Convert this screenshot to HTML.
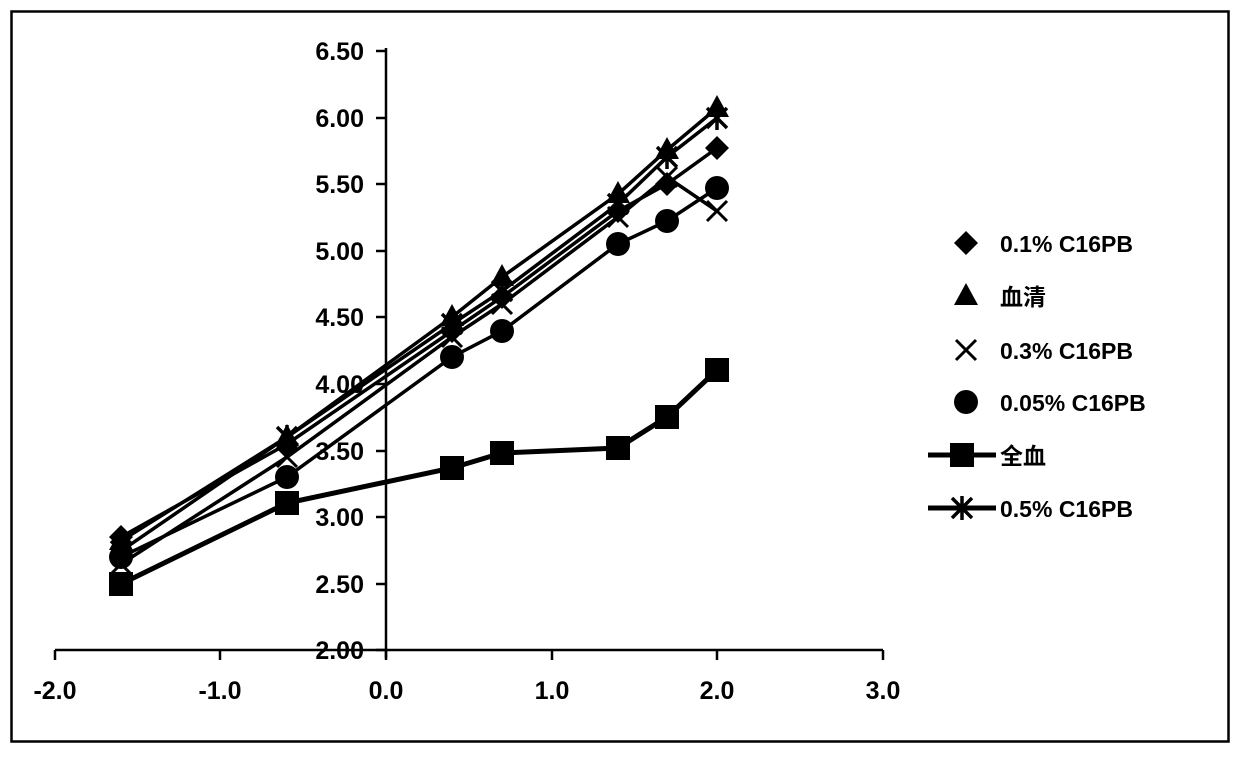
<!DOCTYPE html>
<html><head><meta charset="utf-8"><style>
html,body{margin:0;padding:0;background:#fff;}
svg text{font-family:"Liberation Sans","Noto Sans CJK SC",sans-serif;font-weight:bold;fill:#000;}
</style></head><body>
<svg width="1240" height="754" viewBox="0 0 1240 754" xmlns="http://www.w3.org/2000/svg">
<rect x="11.5" y="11.5" width="1217" height="730" fill="none" stroke="#000" stroke-width="2.5"/>
<defs>
<g id="dia"><path d="M0,-12 L12,0 L0,12 L-12,0Z" fill="#000"/></g>
<g id="tri"><path d="M0,-13 L12,9 L-12,9Z" fill="#000"/></g>
<g id="xx"><path d="M-10,-10 L10,10 M10,-10 L-10,10" stroke="#000" stroke-width="3"/></g>
<g id="cir"><circle r="12" fill="#000"/></g>
<g id="sq"><rect x="-12" y="-12" width="24" height="24" fill="#000"/></g>
<g id="star"><path d="M-10,-10 L10,10 M10,-10 L-10,10 M0,-12 L0,12" stroke="#000" stroke-width="3.5"/></g>
</defs>
<g stroke="#000" stroke-width="2.5" fill="none">
<line x1="386" y1="48" x2="386" y2="658"/>
<line x1="55" y1="650" x2="883" y2="650"/>
<line x1="55" y1="650" x2="55" y2="660"/><line x1="220" y1="650" x2="220" y2="660"/><line x1="386" y1="650" x2="386" y2="660"/><line x1="552" y1="650" x2="552" y2="660"/><line x1="717" y1="650" x2="717" y2="660"/><line x1="883" y1="650" x2="883" y2="660"/>
<line x1="376" y1="51" x2="386" y2="51"/><line x1="376" y1="118" x2="386" y2="118"/><line x1="376" y1="184" x2="386" y2="184"/><line x1="376" y1="251" x2="386" y2="251"/><line x1="376" y1="317" x2="386" y2="317"/><line x1="376" y1="384" x2="386" y2="384"/><line x1="376" y1="451" x2="386" y2="451"/><line x1="376" y1="517" x2="386" y2="517"/><line x1="376" y1="584" x2="386" y2="584"/><line x1="376" y1="650" x2="386" y2="650"/>
</g>
<g font-size="25" text-anchor="end">
<text x="364" y="60">6.50</text><text x="364" y="127">6.00</text><text x="364" y="193">5.50</text><text x="364" y="260">5.00</text><text x="364" y="326">4.50</text><text x="364" y="393">4.00</text><text x="364" y="460">3.50</text><text x="364" y="526">3.00</text><text x="364" y="593">2.50</text><text x="364" y="659">2.00</text>
</g>
<g font-size="25" text-anchor="middle">
<text x="55" y="699">-2.0</text><text x="220" y="699">-1.0</text><text x="386" y="699">0.0</text><text x="552" y="699">1.0</text><text x="717" y="699">2.0</text><text x="883" y="699">3.0</text>
</g>
<g fill="none" stroke="#000" stroke-width="3.5">
<polyline points="121,537 287,444 452,331 502,297 618,211 667,184 717,148"/>
<polyline points="121,541 287,437 452,317 502,277 618,194 667,150 717,108"/>
<polyline points="121,564 287,457 452,337 502,304 618,217 667,177 717,211"/>
<polyline points="121,557 287,477 452,357 502,331 618,244 667,221 717,188"/>
<polyline points="121,584 287,503 452,468 502,453 618,448 667,417 717,370" stroke-width="5"/>
<polyline points="121,551 287,437 452,324 502,291 618,204 667,157 717,118"/>
</g>
<g>
<use href="#dia" x="121" y="537"/><use href="#dia" x="287" y="444"/><use href="#dia" x="452" y="331"/><use href="#dia" x="502" y="297"/><use href="#dia" x="618" y="211"/><use href="#dia" x="667" y="184"/><use href="#dia" x="717" y="148"/>
<use href="#tri" x="121" y="541"/><use href="#tri" x="287" y="437"/><use href="#tri" x="452" y="317"/><use href="#tri" x="502" y="277"/><use href="#tri" x="618" y="194"/><use href="#tri" x="667" y="150"/><use href="#tri" x="717" y="108"/>
<use href="#xx" x="121" y="564"/><use href="#xx" x="287" y="457"/><use href="#xx" x="452" y="337"/><use href="#xx" x="502" y="304"/><use href="#xx" x="618" y="217"/><use href="#xx" x="667" y="177"/><use href="#xx" x="717" y="211"/>
<use href="#cir" x="121" y="557"/><use href="#cir" x="287" y="477"/><use href="#cir" x="452" y="357"/><use href="#cir" x="502" y="331"/><use href="#cir" x="618" y="244"/><use href="#cir" x="667" y="221"/><use href="#cir" x="717" y="188"/>
<use href="#sq" x="121" y="584"/><use href="#sq" x="287" y="503"/><use href="#sq" x="452" y="468"/><use href="#sq" x="502" y="453"/><use href="#sq" x="618" y="448"/><use href="#sq" x="667" y="417"/><use href="#sq" x="717" y="370"/>
<use href="#star" x="121" y="551"/><use href="#star" x="287" y="437"/><use href="#star" x="452" y="324"/><use href="#star" x="502" y="291"/><use href="#star" x="618" y="204"/><use href="#star" x="667" y="157"/><use href="#star" x="717" y="118"/>
</g>
<use href="#dia" x="966" y="243"/>
<use href="#tri" x="966" y="296"/>
<use href="#xx" x="966" y="350"/>
<use href="#cir" x="966" y="402"/>
<line x1="928" y1="455" x2="996" y2="455" stroke="#000" stroke-width="5"/><use href="#sq" x="962" y="455"/>
<line x1="928" y1="508" x2="996" y2="508" stroke="#000" stroke-width="5"/><use href="#star" x="962" y="508"/>
<g font-size="23">
<text x="1000" y="252">0.1% C16PB</text>
<text x="1000" y="305">血清</text>
<text x="1000" y="359">0.3% C16PB</text>
<text x="1000" y="411">0.05% C16PB</text>
<text x="1000" y="464">全血</text>
<text x="1000" y="517">0.5% C16PB</text>
</g>
</svg>
</body></html>
